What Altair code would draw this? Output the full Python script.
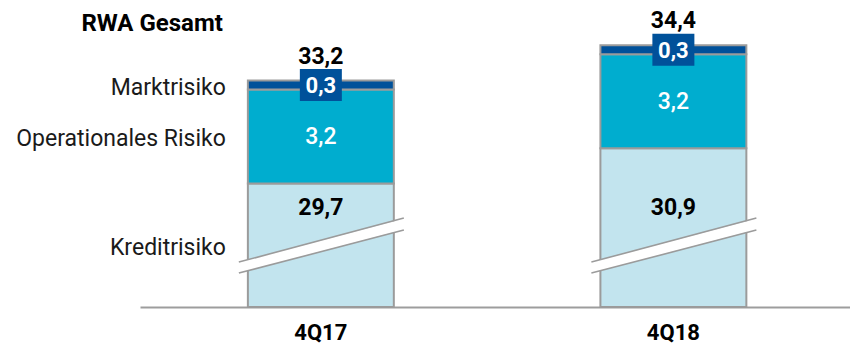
import altair as alt
import pandas as pd

# ---- data ----
quarters = ["4Q17", "4Q18"]
categories = ["Kreditrisiko", "Operationales Risiko", "Marktrisiko"]
kredit = [29.7, 30.9]
operational = [3.2, 3.2]
markt = [0.3, 0.3]
totals = [33.2, 34.4]
title_label = "RWA Gesamt"

# ---- axis break (units cut out of the credit-risk bar) ----
BREAK_CUT = 25.5
BREAK_AT = 2.08          # where the break symbol sits on the shortened scale

colors = ["#C2E4EE", "#00ADCF", "#00519A"]
FONT = "Roboto"


def de(v):
    return f"{v:.1f}".replace(".", ",")


rows = []
for i, q in enumerate(quarters):
    lo = 0.0
    for cat, vals, start_cut in [("Kreditrisiko", kredit, True),
                                 ("Operationales Risiko", operational, False),
                                 ("Marktrisiko", markt, False)]:
        v = vals[i]
        hi = lo + (v - BREAK_CUT if start_cut else v)
        rows.append({"quarter": q, "category": cat, "value": v,
                     "lo": lo, "hi": hi, "mid": (lo + hi) / 2, "label": de(v)})
        lo = hi
df = pd.DataFrame(rows)

df_tot = pd.DataFrame({"quarter": quarters, "total": totals})
df_tot["top"] = df_tot["total"] - BREAK_CUT
df_tot["label"] = df_tot["total"].map(de)

df_break = pd.DataFrame({"quarter": quarters})
df_title = pd.DataFrame({"quarter": [quarters[0]], "top": [max(totals) - BREAK_CUT],
                         "label": [title_label]})

yscale = alt.Scale(domain=[0, 10])
xscale = alt.Scale(domain=quarters, paddingInner=0.586, paddingOuter=0.3, align=0.51)


def X():
    return alt.X("quarter:N", scale=xscale, title=None,
                 axis=alt.Axis(labelAngle=0, labelFont=FONT, labelFontSize=22,
                               labelFontWeight="bold", labelColor="#000000",
                               domainColor="#9d9d9d", domainWidth=2,
                               ticks=False, tickSize=0, labelPadding=15,
                               grid=False))


bars = alt.Chart(df).mark_bar(stroke="#9b9b9b", strokeWidth=2).encode(
    x=X(),
    y=alt.Y("lo:Q", scale=yscale, axis=None),
    y2="hi:Q",
    color=alt.Color("category:N", scale=alt.Scale(domain=categories, range=colors),
                    legend=None),
)

brk_white = alt.Chart(df_break).mark_rule(
    color="white", strokeWidth=10.5, xOffset=-82, x2Offset=83,
    yOffset=21.75, y2Offset=-21.75).encode(
    x=X(), x2=alt.X2("quarter:N"),
    y=alt.Y(datum=BREAK_AT, scale=yscale, axis=None), y2=alt.Y2(datum=BREAK_AT))

brk_top = alt.Chart(df_break).mark_rule(
    color="#9b9b9b", strokeWidth=1.6, xOffset=-82, x2Offset=83,
    yOffset=16.25, y2Offset=-27.75).encode(
    x=X(), x2=alt.X2("quarter:N"),
    y=alt.Y(datum=BREAK_AT, scale=yscale, axis=None), y2=alt.Y2(datum=BREAK_AT))

brk_bot = alt.Chart(df_break).mark_rule(
    color="#9b9b9b", strokeWidth=1.6, xOffset=-82, x2Offset=83,
    yOffset=27.25, y2Offset=-15.75).encode(
    x=X(), x2=alt.X2("quarter:N"),
    y=alt.Y(datum=BREAK_AT, scale=yscale, axis=None), y2=alt.Y2(datum=BREAK_AT))

credit_txt = alt.Chart(df).transform_filter(
    alt.datum.category == "Kreditrisiko").mark_text(
    font=FONT, fontSize=23, fontWeight="bold", color="#000000",
    baseline="middle", dy=-38).encode(
    x=X(), y=alt.Y(datum=BREAK_AT, scale=yscale, axis=None), text="label:N")

op_txt = alt.Chart(df).transform_filter(
    alt.datum.category == "Operationales Risiko").mark_text(
    font=FONT, fontSize=23, fontWeight=500, color="#ffffff", baseline="middle",
    dy=1).encode(
    x=X(), y=alt.Y("mid:Q", scale=yscale, axis=None), text="label:N")

mkt_box = alt.Chart(df).transform_filter(
    alt.datum.category == "Marktrisiko").mark_point(
    shape="M-1,-0.762L1,-0.762L1,0.762L-1,0.762Z", size=1764, filled=True,
    opacity=1, color="#00519A", strokeWidth=0).encode(
    x=X(), y=alt.Y("mid:Q", scale=yscale, axis=None))

mkt_txt = alt.Chart(df).transform_filter(
    alt.datum.category == "Marktrisiko").mark_text(
    font=FONT, fontSize=22, fontWeight="bold", color="#ffffff",
    baseline="middle", dy=1).encode(
    x=X(), y=alt.Y("mid:Q", scale=yscale, axis=None), text="label:N")

tot_txt = alt.Chart(df_tot).mark_text(
    font=FONT, fontSize=23, fontWeight="bold", color="#000000",
    baseline="alphabetic", dy=-17).encode(
    x=X(), y=alt.Y("top:Q", scale=yscale, axis=None), text="label:N")

left_txt = alt.Chart(df).transform_filter(
    alt.datum.quarter == quarters[0]).mark_text(
    font=FONT, fontSize=23, color="#1a1a1a", align="right",
    baseline="middle", dx=-95, dy=3).encode(
    x=X(), y=alt.Y("mid:Q", scale=yscale, axis=None), text="category:N")

title_txt = alt.Chart(df_title).mark_text(
    font=FONT, fontSize=24, fontWeight="bold", color="#000000", align="right",
    baseline="alphabetic", dx=-98, dy=-14).encode(
    x=X(), y=alt.Y("top:Q", scale=yscale, axis=None), text="label:N")

chart = alt.layer(
    bars, brk_white, brk_top, brk_bot, credit_txt, op_txt, mkt_box, mkt_txt,
    tot_txt, left_txt, title_txt
).properties(
    width=710, height=294,
    padding={"left": 140, "top": 13, "right": 0, "bottom": 41},
    autosize=alt.AutoSizeParams(type="none"),
    background="white",
).configure_view(stroke=None)

chart.save("out.html", embed_options={"renderer": "svg", "actions": False})
